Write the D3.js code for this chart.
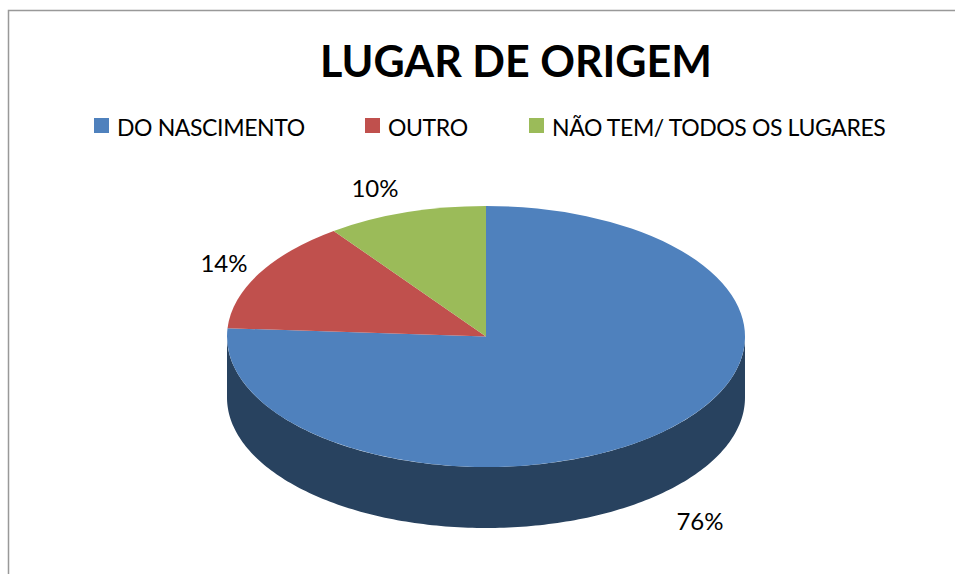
<!DOCTYPE html>
<html>
<head>
<meta charset="utf-8">
<script src="https://cdn.jsdelivr.net/npm/d3@7"></script>
<style>
  html, body { margin: 0; padding: 0; background: #fff; overflow: hidden; }
  text { font-family: Lato, "Open Sans", sans-serif; fill: #000; }
</style>
</head>
<body>
<svg id="chart" width="955" height="574"></svg>
<script>
var chartTitle = "LUGAR DE ORIGEM";
var categories = ["DO NASCIMENTO", "OUTRO", "NÃO TEM/ TODOS OS LUGARES"];
var values = [76, 14, 10];
var valueLabels = ["76%", "14%", "10%"];

var colors = ["#4f81bd", "#c0504d", "#9bbb59"];
var sideColor = "#28425f";

var svg = d3.select("#chart");
var rx = 259, ry = 130.5, depth = 61;
var cx = 486, cy = 336.5;

// chart frame, only left and top are inside the window
svg.append("path")
  .attr("d", "M8.5,574V10.5H955")
  .attr("fill", "none")
  .attr("stroke", "#999")
  .attr("stroke-width", 1.5);

svg.append("text")
  .attr("x", 516).attr("y", 77)
  .attr("text-anchor", "middle")
  .style("font-size", "43px")
  .style("font-weight", "700")
  .text(chartTitle);

// legend
var legendSwatchX = [94, 365, 529];
var legend = svg.append("g").selectAll("g")
  .data(categories)
  .join("g")
  .attr("transform", function(d, i) { return "translate(" + legendSwatchX[i] + ",118)"; });
legend.append("rect")
  .attr("width", 15).attr("height", 15)
  .attr("fill", function(d, i) { return colors[i]; });
legend.append("text")
  .attr("x", 23).attr("y", 18)
  .style("font-size", "23px")
  .style("letter-spacing", "-0.38px")
  .text(function(d) { return d; });

var pie = d3.pie().sort(null);
var arcs = pie(values);
var arc = d3.arc().innerRadius(0).outerRadius(1);

// side wall: the front half of the rim pushed down by depth
function rim(a) {
  return [cx + rx * Math.sin(a), cy - ry * Math.cos(a)];
}
var wallAngles = d3.range(Math.PI / 2, 3 * Math.PI / 2 + 0.001, Math.PI / 180);
var wallTop = wallAngles.map(rim);
var wallBottom = wallAngles.slice().reverse().map(function(a) {
  var p = rim(a);
  return [p[0], p[1] + depth];
});
svg.append("path")
  .attr("d", d3.line()(wallTop.concat(wallBottom)) + "Z")
  .attr("fill", sideColor);

// top face: unit pie squashed into an ellipse
svg.append("g")
  .attr("transform", "translate(" + cx + "," + cy + ") scale(" + rx + "," + ry + ")")
  .selectAll("path")
  .data(arcs)
  .join("path")
  .attr("d", arc)
  .attr("fill", function(d, i) { return colors[i]; });

// data labels
var labelPos = [[700, 530], [224, 272], [375, 197]];
svg.append("g").selectAll("text")
  .data(valueLabels)
  .join("text")
  .attr("x", function(d, i) { return labelPos[i][0]; })
  .attr("y", function(d, i) { return labelPos[i][1]; })
  .attr("text-anchor", "middle")
  .style("font-size", "24px")
  .text(function(d) { return d; });
</script>
</body>
</html>
